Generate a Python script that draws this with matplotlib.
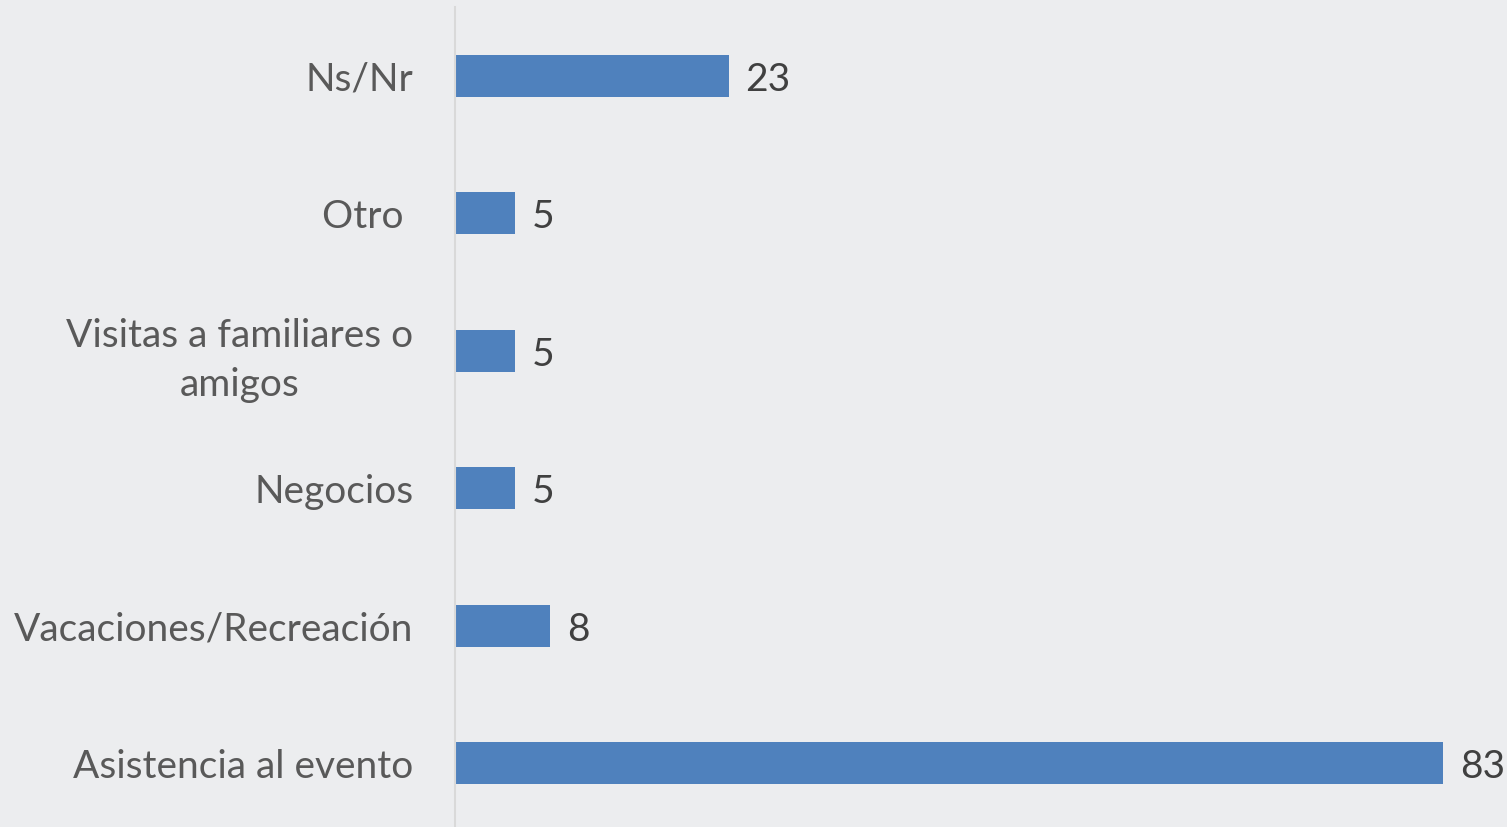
import matplotlib.pyplot as plt

# motivos del viaje (de abajo hacia arriba)
categorias = ["Asistencia al evento", "Vacaciones/Recreación", "Negocios",
              "Visitas a familiares o\namigos", "Otro ", "Ns/Nr"]
valores = [83, 8, 5, 5, 5, 23]

fondo = "#ECEDEF"
azul = "#4F81BD"

plt.rcParams['font.family'] = ['Lato', 'DejaVu Sans']

fig = plt.figure(figsize=(15.07, 8.27), dpi=100, facecolor=fondo)
ax = fig.add_axes([0.302, -0.006, 0.695, 0.9976])
ax.set_facecolor(fondo)

pos = range(len(categorias))
barras = ax.barh(pos, valores, height=0.305, color=azul)

for b, v in zip(barras, valores):
    ax.annotate(str(v), (b.get_width(), b.get_y() + b.get_height() / 2),
                xytext=(12, -3), textcoords="offset points",
                va="center", ha="left", fontsize=28, color="#404040")

ax.set_xlim(0, 88)
ax.set_ylim(-0.5, len(categorias) - 0.5)
ax.set_yticks(list(pos))
ax.set_yticklabels(categorias, fontsize=28, color="#595959",
                   multialignment="center", linespacing=1.45)
ax.tick_params(axis="y", length=0, pad=30)
ax.set_xticks([])

for s in ["top", "right", "bottom"]:
    ax.spines[s].set_visible(False)
ax.spines["left"].set_color("#D9D9D9")
ax.spines["left"].set_linewidth(1.5)

fig.savefig("out.png", dpi=100, facecolor=fondo)
